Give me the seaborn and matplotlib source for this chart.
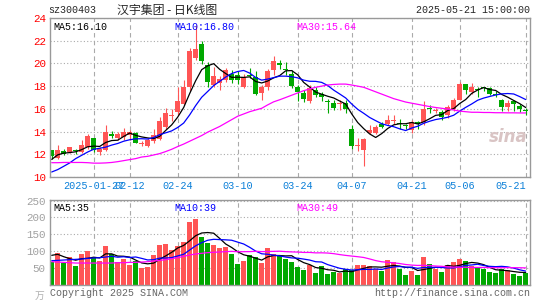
import matplotlib
matplotlib.use('Agg')
import matplotlib.pyplot as plt
import numpy as np
import pandas as pd
import seaborn as sns

# ---- data ----
dates = ['01-16', '01-17', '01-20', '01-21', '01-22', '01-23', '01-24', '01-27',
         '02-05', '02-06', '02-07', '02-10', '02-11', '02-12', '02-13', '02-14',
         '02-17', '02-18', '02-19', '02-20', '02-21', '02-24', '02-25', '02-26',
         '02-27', '02-28', '03-03', '03-04', '03-05', '03-06', '03-07', '03-10',
         '03-11', '03-12', '03-13', '03-14', '03-17', '03-18', '03-19', '03-20',
         '03-21', '03-24', '03-25', '03-26', '03-27', '03-28', '03-31', '04-01',
         '04-02', '04-03', '04-07', '04-08', '04-09', '04-10', '04-11', '04-14',
         '04-15', '04-16', '04-17', '04-18', '04-21', '04-22', '04-23', '04-24',
         '04-25', '04-28', '04-29', '04-30', '05-06', '05-07', '05-08', '05-09',
         '05-12', '05-13', '05-14', '05-15', '05-16', '05-19', '05-20', '05-21']

opens = [12.35, 11.7, 12.3, 12.2, 12.3, 12.2, 12.6, 13.4, 12.2, 12.4,
         13.75, 13.45, 13.5, 13.7, 13.85, 12.9, 12.7, 13.15, 13.35, 14.4,
         15.35, 15.7, 16.4, 17.9, 20.45, 21.7, 19.85, 18.1, 18.25, 18.55,
         19.1, 18.95, 17.9, 18.9, 18.8, 17.4, 17.9, 19.4, 20.05, 19.55,
         19.1, 17.9, 17.4, 16.7, 17.65, 17.3, 16.65, 16.5, 16.4, 16.5,
         14.2, 12.75, 12.4, 13.9, 13.85, 14.7, 14.7, 14.95, 14.75, 14.5,
         14.12, 14.85, 14.8, 16.0, 15.85, 15.75, 15.45, 15.95, 16.8, 18.2,
         17.5, 17.75, 17.9, 17.85, 17.3, 16.8, 16.2, 16.7, 16.25, 15.9]
highs = [12.4, 12.85, 12.5, 12.6, 12.5, 13.3, 13.8, 13.4, 12.6, 14.6,
         14.05, 13.95, 14.35, 14.15, 14.0, 13.15, 13.4, 14.2, 15.3, 16.05,
         16.0, 17.9, 18.5, 21.4, 23.4, 22.0, 20.1, 19.7, 18.85, 19.6,
         19.45, 19.3, 19.1, 19.6, 19.3, 18.1, 19.55, 20.65, 20.3, 20.1,
         19.4, 18.1, 17.7, 18.1, 17.95, 17.5, 16.9, 16.8, 16.8, 16.8,
         14.6, 13.4, 13.4, 14.6, 14.6, 14.85, 15.5, 15.5, 15.15, 14.7,
         15.0, 14.95, 16.65, 16.3, 16.1, 15.9, 16.3, 16.95, 18.4, 18.2,
         18.25, 17.9, 17.95, 17.95, 17.6, 16.9, 16.8, 16.8, 16.45, 16.1]
lows = [11.6, 11.6, 11.9, 12.1, 12.0, 12.1, 12.5, 12.2, 11.95, 12.3,
        13.45, 13.3, 13.25, 13.3, 12.95, 12.7, 12.6, 12.95, 13.3, 14.25,
        14.95, 15.5, 16.3, 17.6, 20.3, 19.95, 17.9, 17.9, 17.7, 18.4,
        18.3, 18.2, 17.8, 18.7, 17.2, 16.75, 17.65, 18.95, 19.55, 18.95,
        17.85, 16.7, 16.6, 16.55, 17.05, 16.7, 15.6, 15.9, 15.9, 15.65,
        12.5, 12.3, 10.95, 13.8, 13.8, 14.3, 14.55, 14.7, 14.25, 14.2,
        13.9, 14.25, 14.55, 15.6, 15.6, 15.0, 15.2, 15.85, 16.75, 17.3,
        17.35, 17.05, 17.6, 17.2, 17.05, 15.85, 15.85, 15.8, 15.75, 15.45]
closes = [11.85, 12.35, 12.05, 12.6, 12.25, 12.8, 13.6, 12.35, 12.45, 14.0,
          13.65, 13.75, 14.0, 13.95, 13.0, 12.95, 13.3, 13.7, 14.95, 15.6,
          15.4, 16.7, 17.95, 21.1, 21.27, 20.25, 18.4, 18.9, 18.6, 19.4,
          18.55, 18.5, 18.8, 18.85, 17.35, 17.9, 19.35, 20.2, 19.85, 19.45,
          18.0, 17.5, 16.85, 17.8, 17.25, 17.05, 16.6, 16.1, 16.45, 15.95,
          12.7, 12.8, 13.35, 14.1, 14.4, 14.4, 15.05, 15.0, 14.7, 14.45,
          14.85, 14.7, 15.95, 15.95, 15.9, 15.25, 16.2, 16.8, 18.2, 17.65,
          17.95, 17.7, 17.85, 17.35, 17.25, 16.2, 16.5, 16.4, 15.95, 15.85]

ma5 = [11.55, 11.95, 12.1, 12.15, 12.22, 12.41, 12.66, 12.72, 12.69, 13.04,
       13.21, 13.24, 13.57, 13.87, 13.67, 13.53, 13.44, 13.38, 13.58, 14.1,
       14.59, 15.27, 16.12, 17.35, 18.48, 19.45, 19.79, 19.98, 19.48, 19.11,
       18.77, 18.79, 18.77, 18.82, 18.41, 18.28, 18.45, 18.73, 18.93, 19.35,
       19.37, 19.0, 18.33, 17.92, 17.48, 17.29, 17.11, 16.96, 16.69, 16.43,
       15.56, 14.8, 14.26, 13.79, 13.48, 13.82, 14.27, 14.59, 14.69, 14.69,
       14.8, 14.67, 14.86, 15.13, 15.43, 15.49, 15.85, 16.02, 16.47, 16.82,
       17.36, 17.66, 17.87, 17.7, 17.62, 17.27, 17.03, 16.74, 16.46, 16.12]
ma10 = [10.44, 10.65, 10.94, 11.24, 11.62, 11.91, 12.2, 12.44, 12.53, 12.63,
        12.81, 12.95, 13.15, 13.28, 13.36, 13.37, 13.34, 13.48, 13.73, 13.89,
        14.06, 14.36, 14.75, 15.47, 16.29, 17.02, 17.53, 18.05, 18.42, 18.8,
        19.11, 19.29, 19.38, 19.15, 18.76, 18.53, 18.62, 18.75, 18.88, 18.88,
        18.83, 18.73, 18.53, 18.43, 18.42, 18.33, 18.06, 17.65, 17.31, 16.96,
        16.43, 15.96, 15.61, 15.24, 14.96, 14.69, 14.54, 14.43, 14.24, 14.09,
        14.31, 14.47, 14.73, 14.91, 15.06, 15.15, 15.26, 15.44, 15.8, 16.13,
        16.43, 16.76, 16.95, 17.09, 17.22, 17.32, 17.35, 17.31, 17.08, 16.82]
ma30 = [11.26, 11.26, 11.28, 11.28, 11.28, 11.28, 11.26, 11.22, 11.22, 11.24,
        11.28, 11.35, 11.44, 11.53, 11.62, 11.76, 11.82, 11.94, 12.06, 12.24,
        12.44, 12.68, 12.9, 13.15, 13.4, 13.65, 13.95, 14.2, 14.45, 14.75,
        15.05, 15.35, 15.55, 15.75, 15.9, 16.05, 16.35, 16.62, 16.8, 17.0,
        17.2, 17.4, 17.6, 17.75, 17.9, 18.0, 18.1, 18.15, 18.18, 18.18,
        18.1, 18.0, 17.9, 17.7, 17.5, 17.3, 17.1, 16.9, 16.75, 16.6,
        16.5, 16.4, 16.3, 16.2, 16.12, 16.05, 15.98, 15.9, 15.8, 15.75,
        15.7, 15.7, 15.68, 15.68, 15.66, 15.66, 15.65, 15.65, 15.64, 15.64]

volume = [68, 94, 63, 82, 55, 91, 99, 80, 71, 116,
          91, 66, 77, 59, 71, 49, 52, 88, 117, 120,
          103, 116, 127, 186, 196, 143, 123, 117, 108, 113,
          91, 60, 71, 87, 83, 63, 108, 91, 87, 77,
          66, 52, 44, 58, 33, 55, 30, 36, 33, 47,
          44, 59, 57, 55, 47, 40, 74, 68, 45, 28,
          40, 28, 82, 62, 45, 37, 59, 68, 77, 71,
          54, 49, 45, 37, 35, 47, 42, 32, 26, 33]
vma5 = [87, 90, 83, 77, 72.4, 77, 78, 81.4, 79.2, 91.4,
        91.4, 84.8, 84.2, 81.8, 72.8, 64.4, 61.6, 63.8, 75.4, 85.2,
        96, 108.8, 116.6, 130.4, 145.6, 153.6, 155, 153, 137.4, 120.8,
        110.4, 97.8, 88.6, 84.4, 78.4, 72.8, 82.4, 86.4, 86.4, 85.2,
        85.8, 74.6, 65.2, 59.4, 50.6, 48.4, 44, 42.4, 37.4, 40.2,
        38, 43.8, 48, 52.4, 52.4, 51.6, 54.6, 56.8, 54.8, 51,
        51, 41.8, 44.6, 48, 51.4, 50.8, 57, 54.2, 57.2, 62.4,
        65.8, 63.8, 59.2, 51.2, 44, 42.6, 41.2, 38.6, 36.4, 36]
vma10 = [71, 72, 73, 74, 75, 76, 78, 79, 80, 81.9,
         84.2, 81.4, 82.8, 80.5, 82.1, 77.9, 73.2, 74, 78.6, 79,
         80.2, 85.2, 90.2, 102.9, 115.4, 124.8, 131.9, 134.8, 133.9, 133.2,
         132, 126.4, 120.8, 110.9, 99.6, 91.6, 90.1, 87.5, 85.4, 81.8,
         79.3, 78.5, 75.8, 72.9, 67.9, 67.1, 59.3, 53.8, 48.4, 45.4,
         43.2, 43.9, 45.2, 44.9, 46.3, 44.8, 49.2, 52.4, 53.6, 51.7,
         51.3, 48.2, 50.7, 51.4, 51.2, 50.9, 49.4, 49.4, 52.6, 56.9,
         58.3, 60.4, 56.7, 54.2, 53.2, 54.2, 52.5, 48.9, 43.8, 40]
vma30 = [68, 67, 66, 65, 64, 64, 64, 64, 64, 64,
         64, 65, 65, 66, 66, 67, 68, 70, 72, 74,
         77, 80, 84, 88, 91, 93, 95, 96, 97, 98,
         98.8, 97.7, 97.9, 98.1, 99.0, 98.1, 98.4, 98.8, 99.3, 98,
         97.2, 96.7, 95.6, 95.6, 94.3, 94.5, 93.8, 92.0, 89.2, 86.8,
         84.8, 82.9, 80.6, 76.2, 71.3, 67.8, 66.2, 64.6, 62.5, 59.6,
         57.9, 56.9, 57.2, 56.4, 55.1, 54.3, 52.6, 51.9, 51.5, 51.3,
         50.9, 50.8, 50.9, 50.2, 50.2, 50.0, 50.4, 50.2, 50.0, 49.5]

tick_dates = ['01-27', '02-12', '02-24', '03-10', '03-24', '04-07', '04-21', '05-06', '05-21']
tick_labels = ['2025-01-27', '02-12', '02-24', '03-10', '03-24', '04-07', '04-21', '05-06', '05-21']

RED = '#ff5555'
GREEN = '#00a800'
GRID = '#aaaaaa'
MONO = ['Liberation Mono', 'DejaVu Sans Mono']
CJK = ['Noto Sans CJK SC', 'DejaVu Sans']

sns.set_style('white')
plt.rcParams['font.family'] = MONO + ['Noto Sans CJK SC']

df = pd.DataFrame({'d': dates, 'open': opens, 'high': highs, 'low': lows, 'close': closes,
                   'ma5': ma5, 'ma10': ma10, 'ma30': ma30,
                   'vol': volume, 'vma5': vma5, 'vma10': vma10, 'vma30': vma30})
df['x'] = np.arange(len(df))
df['dir'] = np.where(df['close'] >= df['open'], 'up', 'down')
cols = np.where(df['dir'] == 'up', RED, GREEN)
ticks = [dates.index(t) for t in tick_dates]

fig = plt.figure(figsize=(5.45, 3.0), dpi=100)
ax = fig.add_axes([50 / 545, 1 - 177 / 300, 480 / 545, 159 / 300])
axv = fig.add_axes([50 / 545, 1 - 284.5 / 300, 480 / 545, 84.5 / 300])

# candles
ax.vlines(df['x'], df['low'], df['high'], colors=cols, linewidth=0.8, zorder=3)
body = np.maximum((df['close'] - df['open']).abs(), 0.09)
ax.bar(df['x'], body, bottom=np.minimum(df['open'], df['close']), width=0.8,
       color=cols, linewidth=0, zorder=3)

for col, c in [('ma5', 'black'), ('ma10', '#0000ff'), ('ma30', '#ff00ff')]:
    sns.lineplot(data=df, x='x', y=col, color=c, linewidth=0.9, ax=ax, zorder=4)

# volume
sns.barplot(data=df, x='x', y='vol', hue='dir', palette={'up': RED, 'down': GREEN},
            native_scale=True, width=0.85, dodge=False, legend=False, errorbar=None,
            saturation=1, linewidth=0, ax=axv, zorder=3)
for col, c in [('vma5', 'black'), ('vma10', '#0000ff'), ('vma30', '#ff00ff')]:
    sns.lineplot(data=df, x='x', y=col, color=c, linewidth=0.9, ax=axv, zorder=4)

for a in (ax, axv):
    a.set_xlim(-0.28, 79.72)
    a.set_xlabel('')
    a.set_ylabel('')
    a.set_xticks(ticks)
    a.tick_params(length=0, pad=3)
    a.xaxis.grid(True, color=GRID, linewidth=0.8, linestyle=(0, (4, 3)))
    a.yaxis.grid(True, color=GRID, linewidth=0.8, linestyle=(0, (1, 2)))
    a.set_axisbelow(True)
    for s in a.spines.values():
        s.set_color('#999999')
        s.set_linewidth(1.0)
        s.set_zorder(6)

ax.set_ylim(10, 24)
ax.set_yticks(range(10, 25, 2))
ax.set_yticklabels([str(v) for v in range(10, 25, 2)], color='#ff0000', fontsize=7.8)
ax.set_xticklabels(tick_labels, color='#0a7fd8', fontsize=7.3)
ax.get_xticklabels()[-1].set_ha('right')

axv.set_ylim(0, 252)
axv.set_yticks([50, 100, 150, 200, 250])
axv.set_yticklabels(['50', '100', '150', '200', '250'], color='#a0a0a0', fontsize=7.8)
axv.set_xticklabels([])

# text
fig.text(48 / 545, 1 - 10 / 300, 'sz300403', fontsize=7.2, va='center', ha='left')
fig.text(117 / 545, 1 - 10 / 300, '汉宇集团 - 日K线图', family=CJK, fontsize=8.6, va='center', ha='left')
fig.text(530 / 545, 1 - 10 / 300, '2025-05-21 15:00:00', fontsize=7.2, va='center', ha='right')

ax.text(0.006, 0.943, 'MA5:16.10', transform=ax.transAxes, color='black', fontsize=7.2, va='center')
ax.text(0.26, 0.943, 'MA10:16.80', transform=ax.transAxes, color='#0000ff', fontsize=7.2, va='center')
ax.text(0.5125, 0.943, 'MA30:15.64', transform=ax.transAxes, color='#ff00ff', fontsize=7.2, va='center')
axv.text(0.006, 0.905, 'MA5:35', transform=axv.transAxes, color='black', fontsize=7.2, va='center')
axv.text(0.26, 0.905, 'MA10:39', transform=axv.transAxes, color='#0000ff', fontsize=7.2, va='center')
axv.text(0.5125, 0.905, 'MA30:49', transform=axv.transAxes, color='#ff00ff', fontsize=7.2, va='center')

ax.text(0.995, 0.25, 'sina', transform=ax.transAxes, ha='right', va='center', fontsize=12,
        style='italic', weight='bold', color='#d9c4c4', family=['DejaVu Sans'], zorder=2)

fig.text(44 / 545, 1 - 296 / 300, '万', family=CJK, fontsize=7, color='#b0b0b0', ha='right', va='center')
fig.text(50 / 545, 1 - 293 / 300, 'Copyright 2025 SINA.COM', fontsize=7.2, color='#666666', va='center')
fig.text(530 / 545, 1 - 293 / 300, 'http://finance.sina.com.cn', fontsize=7.2, color='#666666',
         va='center', ha='right')

plt.savefig('out.png', dpi=100)
